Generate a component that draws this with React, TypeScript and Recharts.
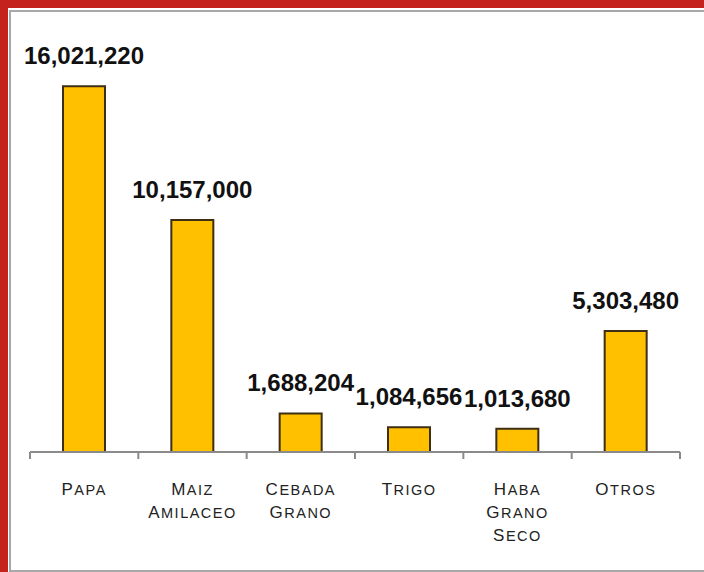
import { BarChart, Bar, XAxis, YAxis, LabelList } from 'recharts';

const categories = ['Papa', 'Maiz Amilaceo', 'Cebada Grano', 'Trigo', 'Haba Grano Seco', 'Otros'];
const production = [16021220, 10157000, 1688204, 1084656, 1013680, 5303480];
const yDomain = [0, 18000000];

const chartData = categories.map((c, i) => ({ name: c, value: production[i] }));

const W = 704;
const H = 572;
const M = { top: 41, right: 24, left: 30, bottom: 0 };
const band = (W - M.left - M.right) / categories.length;

function formatNum(v: number) {
  return v.toLocaleString('en-US');
}

function CatTick(props: any) {
  const { x, y, payload, index } = props;
  const words: string[] = String(payload.value).split(' ');
  return (
    <g>
      <line x1={x - band / 2} y1={y} x2={x - band / 2} y2={y + 7} stroke="#8a8a8a" strokeWidth={2} />
      {index === categories.length - 1 && (
        <line x1={x + band / 2} y1={y} x2={x + band / 2} y2={y + 7} stroke="#8a8a8a" strokeWidth={2} />
      )}
      <text
        x={x}
        y={y + 43}
        textAnchor="middle"
        fill="#222"
        fontFamily="'Liberation Sans', Arial, sans-serif"
        letterSpacing={1.5}
      >
        {words.map((w, i) => (
          <tspan key={i} x={x} dy={i === 0 ? 0 : 23}>
            <tspan fontSize={17}>{w.charAt(0).toUpperCase()}</tspan>
            <tspan fontSize={14.5}>{w.slice(1).toUpperCase()}</tspan>
          </tspan>
        ))}
      </text>
    </g>
  );
}

export default function App() {
  return (
    <div style={{ position: 'relative', width: W, height: H, background: '#c4231d', overflow: 'hidden' }}>
      <style>{`body{margin:0}`}</style>
      <div style={{ position: 'absolute', left: 8, top: 8, width: W - 8, height: H - 8, background: '#fff' }} />
      <div
        style={{
          position: 'absolute',
          left: 9,
          top: 10,
          width: W,
          height: 558,
          borderLeft: '2px solid #a8a8a8',
          borderTop: '2px solid #a8a8a8',
          borderBottom: '2px solid #a8a8a8',
        }}
      />
      <div style={{ position: 'absolute', left: 0, top: 0 }}>
        <BarChart width={W} height={H} data={chartData} margin={M} barCategoryGap={0}>
          <XAxis
            dataKey="name"
            height={120}
            interval={0}
            tickSize={0}
            tickMargin={0}
            tickLine={false}
            axisLine={{ stroke: '#8a8a8a', strokeWidth: 2 }}
            tick={<CatTick />}
          />
          <YAxis hide domain={yDomain} />
          <Bar
            dataKey="value"
            fill="#FFC000"
            stroke="#3d2e14"
            strokeWidth={2}
            barSize={42}
            isAnimationActive={false}
          >
            <LabelList
              dataKey="value"
              position="top"
              offset={22}
              formatter={(v: any) => formatNum(Number(v))}
              style={{
                fontFamily: "'Liberation Sans', Arial, sans-serif",
                fontWeight: 'bold',
                fontSize: 24,
                fill: '#111',
              }}
            />
          </Bar>
        </BarChart>
      </div>
    </div>
  );
}
